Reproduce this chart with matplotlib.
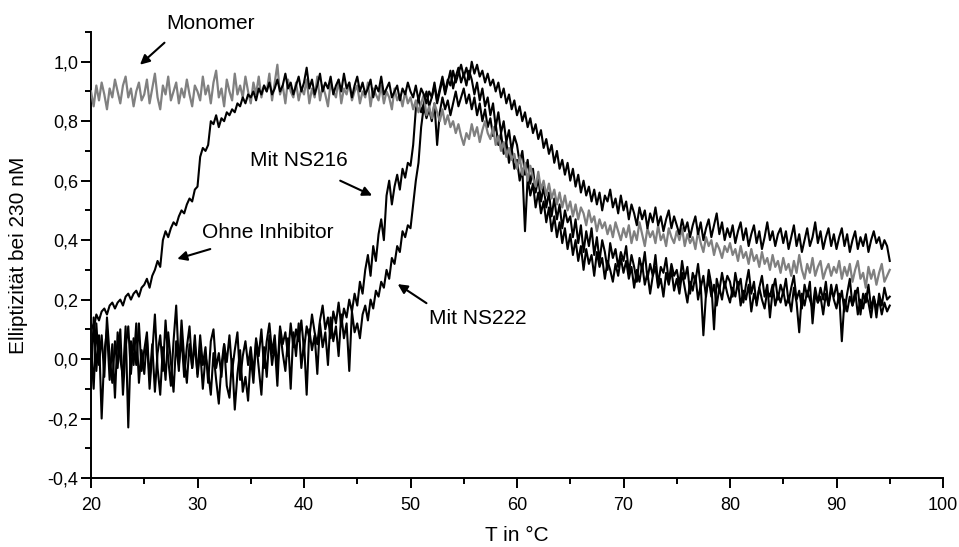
import numpy as np
import matplotlib

matplotlib.use('Agg')
import matplotlib.pyplot as plt


# font settings
plt.rcParams['font.family'] = ['Liberation Sans', 'DejaVu Sans']
font_label = {'family': 'Liberation Sans', 'size': 15}
font_note = {'family': 'Liberation Sans', 'size': 15}


# temperature grid: 0.25 degC steps starting at 20 degC
t_start = 20.0
t_step = 0.25

# ellipticity, two lines = 5 degC
monomer = [
    0.90, 0.85, 0.92, 0.87, 0.93, 0.89, 0.84, 0.91, 0.88, 0.94,
    0.90, 0.86, 0.92, 0.95, 0.88, 0.91, 0.85, 0.90, 0.93, 0.87,
    0.89, 0.94, 0.86, 0.91, 0.96, 0.88, 0.84, 0.92, 0.89, 0.95,
    0.87, 0.90, 0.93, 0.86, 0.91, 0.88, 0.94, 0.89, 0.85, 0.92,
    0.90, 0.87, 0.95, 0.89, 0.92, 0.86, 0.93, 0.97, 0.88, 0.91,
    0.85, 0.94, 0.90, 0.87, 0.96, 0.89, 0.92, 0.88, 0.95, 0.90,
    0.86, 0.93, 0.89, 0.95, 0.88, 0.92, 0.90, 0.96, 0.87, 0.93,
    0.99, 0.89, 0.92, 0.86, 0.94, 0.90, 0.88, 0.93, 0.87, 0.91,
    0.89, 0.94, 0.86, 0.91, 0.88, 0.95, 0.87, 0.92, 0.89, 0.85,
    0.93, 0.90, 0.88, 0.94, 0.86, 0.91, 0.89, 0.93, 0.87, 0.90,
    0.92, 0.86, 0.90, 0.88, 0.93, 0.85, 0.91, 0.89, 0.87, 0.92,
    0.86, 0.90, 0.88, 0.84, 0.91, 0.87, 0.89, 0.85, 0.90, 0.86,
    0.88, 0.84, 0.87, 0.83, 0.86, 0.89, 0.82, 0.85, 0.81, 0.86,
    0.83, 0.80, 0.84, 0.79, 0.82, 0.78, 0.80, 0.76, 0.79, 0.75,
    0.72, 0.76, 0.74, 0.79, 0.75, 0.78, 0.73, 0.77, 0.80, 0.76,
    0.74, 0.78, 0.72, 0.75, 0.70, 0.73, 0.68, 0.71, 0.67, 0.69,
    0.64, 0.68, 0.62, 0.66, 0.60, 0.65, 0.61, 0.58, 0.63, 0.57,
    0.60, 0.55, 0.59, 0.54, 0.57, 0.52, 0.56, 0.51, 0.55, 0.50,
    0.53, 0.48, 0.52, 0.47, 0.51, 0.49, 0.45, 0.50, 0.46, 0.48,
    0.43, 0.47, 0.44, 0.46, 0.42, 0.45, 0.41, 0.46, 0.43, 0.40,
    0.44, 0.41, 0.45, 0.39, 0.43, 0.40, 0.46, 0.42, 0.38, 0.44,
    0.41, 0.43, 0.39, 0.45, 0.40, 0.42, 0.38, 0.44, 0.41, 0.39,
    0.43, 0.40, 0.44, 0.38, 0.42, 0.39, 0.41, 0.37, 0.43, 0.39,
    0.36, 0.41, 0.38, 0.40, 0.35, 0.39, 0.37, 0.34, 0.38, 0.36,
    0.39, 0.35, 0.37, 0.33, 0.38, 0.34, 0.36, 0.32, 0.37, 0.33,
    0.35, 0.31, 0.36, 0.32, 0.34, 0.30, 0.35, 0.31, 0.33, 0.29,
    0.34, 0.30, 0.32, 0.28, 0.33, 0.29, 0.35, 0.30, 0.27, 0.32,
    0.29, 0.34, 0.28, 0.31, 0.33, 0.27, 0.30, 0.32, 0.28, 0.31,
    0.29, 0.33, 0.27, 0.31, 0.28, 0.32, 0.26, 0.30, 0.33, 0.27,
    0.29, 0.24, 0.31, 0.27, 0.30, 0.25, 0.29, 0.32, 0.26, 0.28,
    0.30]

ohne_inhibitor = [
    0.12, 0.10, 0.15, 0.13, 0.16, 0.17, 0.15, 0.18, 0.19, 0.17,
    0.19, 0.20, 0.18, 0.21, 0.22, 0.20, 0.22, 0.23, 0.21, 0.24,
    0.25, 0.27, 0.24, 0.28, 0.30, 0.33, 0.31, 0.40, 0.43, 0.41,
    0.44, 0.46, 0.45, 0.48, 0.50, 0.49, 0.52, 0.54, 0.53, 0.57,
    0.58, 0.68, 0.71, 0.70, 0.72, 0.80, 0.79, 0.82, 0.78, 0.81,
    0.80, 0.83, 0.82, 0.84, 0.83, 0.86, 0.85, 0.88, 0.86, 0.89,
    0.88, 0.90, 0.87, 0.91, 0.89, 0.92, 0.90, 0.93, 0.89, 0.91,
    0.94, 0.90, 0.92, 0.96, 0.91, 0.93, 0.89, 0.92, 0.95, 0.90,
    0.93, 0.98, 0.91, 0.94, 0.89, 0.92, 0.96, 0.90, 0.93, 0.91,
    0.95, 0.89, 0.92, 0.94, 0.90, 0.96, 0.91, 0.93, 0.88, 0.92,
    0.95, 0.90, 0.93, 0.89, 0.91, 0.94, 0.88, 0.92, 0.90, 0.95,
    0.89, 0.91, 0.93, 0.88, 0.90, 0.92, 0.87, 0.91, 0.89, 0.93,
    0.90, 0.88, 0.92, 0.87, 0.91, 0.89, 0.86, 0.90, 0.88, 0.93,
    0.87, 0.91, 0.95, 0.90, 0.94, 0.92, 0.97, 0.93, 0.96, 0.99,
    0.95, 0.98, 0.94, 1.00, 0.96, 0.99, 0.95, 0.97, 0.93, 0.96,
    0.92, 0.94, 0.90, 0.93, 0.88, 0.91, 0.86, 0.89, 0.84, 0.87,
    0.82, 0.85, 0.80, 0.83, 0.78, 0.81, 0.76, 0.79, 0.74, 0.77,
    0.71, 0.74, 0.69, 0.72, 0.66, 0.70, 0.64, 0.67, 0.62, 0.66,
    0.60, 0.64, 0.58, 0.62, 0.56, 0.60, 0.55, 0.58, 0.53, 0.57,
    0.52, 0.56, 0.50, 0.55, 0.53, 0.57, 0.51, 0.54, 0.49, 0.55,
    0.50, 0.53, 0.47, 0.52, 0.49, 0.45, 0.51, 0.47, 0.50, 0.44,
    0.49, 0.46, 0.51, 0.45, 0.48, 0.43, 0.47, 0.50, 0.44, 0.48,
    0.45, 0.42, 0.47, 0.43, 0.46, 0.41, 0.45, 0.48, 0.42, 0.46,
    0.40, 0.44, 0.47, 0.41, 0.45, 0.49, 0.42, 0.46, 0.40, 0.44,
    0.41, 0.45, 0.39, 0.43, 0.46, 0.40, 0.44, 0.38, 0.42, 0.45,
    0.39, 0.43, 0.37, 0.41, 0.46, 0.40, 0.43, 0.38, 0.42, 0.44,
    0.39, 0.43, 0.37, 0.41, 0.45, 0.38, 0.42, 0.36, 0.40, 0.44,
    0.38, 0.41, 0.46, 0.39, 0.43, 0.37, 0.41, 0.44, 0.38, 0.42,
    0.37, 0.41, 0.44, 0.38, 0.42, 0.36, 0.40, 0.43, 0.37, 0.41,
    0.38, 0.42, 0.36, 0.40, 0.43, 0.39, 0.41, 0.37, 0.40, 0.38,
    0.33]

ns216 = [
    0.05, -0.10, 0.12, -0.02, 0.08, -0.06, 0.14, 0.01, -0.08, 0.06,
    -0.03, 0.10, -0.12, 0.04, 0.11, -0.05, 0.07, -0.02, 0.12, -0.04,
    0.03, 0.09, -0.07, 0.05, -0.11, 0.02, 0.08, -0.04, 0.13, 0.00,
    -0.09, 0.06, 0.18, -0.02, 0.07, -0.06, 0.04, 0.11, -0.03, 0.05,
    -0.05, 0.08, -0.02, 0.04, -0.08, 0.06, 0.10, -0.03, 0.02, -0.06,
    0.05, -0.01, 0.08, -0.04, 0.03, 0.09, -0.07, 0.01, 0.06, -0.02,
    0.04, -0.05, 0.07, 0.01, 0.10, -0.03, 0.06, 0.12, 0.02, 0.08,
    -0.04, 0.11, 0.05, 0.09, 0.01, 0.12, 0.04, 0.10, 0.06, 0.13,
    0.03, 0.11, 0.07, 0.15, 0.09, 0.05, 0.13, 0.18, 0.10, 0.14,
    0.07, 0.16, 0.12, 0.19, 0.11, 0.17, 0.14, 0.20, 0.16, 0.22,
    0.18, 0.26, 0.22, 0.30, 0.35, 0.28, 0.38, 0.33, 0.42, 0.47,
    0.40, 0.55, 0.60, 0.52, 0.58, 0.62, 0.57, 0.64, 0.61, 0.66,
    0.65, 0.72, 0.84, 0.88, 0.83, 0.86, 0.90, 0.85, 0.88, 0.92,
    0.86, 0.90, 0.94, 0.89, 0.93, 0.97, 0.91, 0.95, 0.98, 0.93,
    0.96, 0.92, 0.97, 0.94, 0.89, 0.93, 0.87, 0.91, 0.85, 0.88,
    0.82, 0.86, 0.78, 0.83, 0.76, 0.80, 0.73, 0.77, 0.70, 0.75,
    0.72, 0.66, 0.70, 0.62, 0.67, 0.59, 0.64, 0.56, 0.61, 0.53,
    0.58, 0.51, 0.56, 0.48, 0.54, 0.47, 0.52, 0.44, 0.50, 0.46,
    0.48, 0.41, 0.47, 0.39, 0.45, 0.36, 0.43, 0.38, 0.44, 0.35,
    0.41, 0.33, 0.40, 0.36, 0.30, 0.39, 0.34, 0.37, 0.31, 0.36,
    0.33, 0.38, 0.29, 0.35, 0.31, 0.26, 0.34, 0.30, 0.36, 0.27,
    0.32, 0.28, 0.35, 0.25, 0.31, 0.29, 0.34, 0.26, 0.32, 0.28,
    0.30, 0.25, 0.33, 0.27, 0.31, 0.22, 0.29, 0.26, 0.32, 0.24,
    0.28, 0.21, 0.30, 0.25, 0.10, 0.27, 0.23, 0.29, 0.24, 0.28,
    0.26, 0.21, 0.29, 0.24, 0.27, 0.19, 0.25, 0.30, 0.22, 0.26,
    0.18, 0.24, 0.28, 0.21, 0.25, 0.14, 0.23, 0.27, 0.20, 0.25,
    0.22, 0.27, 0.19, 0.24, 0.28, 0.20, 0.23, 0.17, 0.25, 0.21,
    0.26, 0.12, 0.22, 0.19, 0.24, 0.20, 0.26, 0.18, 0.23, 0.21,
    0.25, 0.19, 0.23, 0.16, 0.22, 0.27, 0.18, 0.21, 0.24, 0.15,
    0.22, 0.19, 0.25, 0.17, 0.21, 0.14, 0.22, 0.18, 0.24, 0.20,
    0.21]

ns222 = [
    -0.10, 0.14, -0.04, 0.08, -0.20, 0.02, 0.10, -0.07, 0.05, -0.13,
    0.09, 0.00, -0.06, 0.11, -0.23, 0.06, -0.02, 0.12, -0.08, 0.03,
    -0.05, 0.07, -0.10, 0.02, 0.15, -0.03, -0.12, 0.04, -0.07, 0.09,
    -0.01, -0.11, 0.06, -0.04, 0.13, 0.00, -0.08, 0.05, -0.03, 0.08,
    -0.06, 0.03, -0.10, 0.01, -0.04, -0.12, 0.02, -0.07, -0.15, -0.02,
    0.05, -0.09, -0.13, 0.00, -0.17, -0.05, 0.03, -0.11, -0.06, -0.14,
    0.01, -0.08, 0.06, -0.03, -0.12, 0.04, -0.06, 0.08, -0.02, 0.05,
    -0.09, 0.10, 0.02, -0.04, 0.07, -0.10, 0.09, 0.01, 0.12, -0.03,
    0.06, -0.12, 0.10, 0.03, 0.08, -0.05, 0.12, 0.04, 0.09, -0.02,
    0.14, 0.06, 0.11, 0.01, 0.15, 0.07, 0.12, -0.04, 0.16, 0.09,
    0.12, 0.07, 0.15, 0.18, 0.13, 0.20, 0.17, 0.23, 0.21, 0.26,
    0.24, 0.30, 0.27, 0.34, 0.32, 0.38, 0.36, 0.43, 0.41, 0.45,
    0.44, 0.52, 0.60, 0.66, 0.78, 0.85, 0.81, 0.84, 0.80, 0.86,
    0.72, 0.83, 0.88, 0.84, 0.87, 0.82, 0.86, 0.90, 0.85, 0.88,
    0.91, 0.86, 0.89, 0.84, 0.88, 0.82, 0.86, 0.80, 0.84, 0.78,
    0.81, 0.75, 0.79, 0.72, 0.76, 0.69, 0.73, 0.66, 0.71, 0.64,
    0.67, 0.60, 0.64, 0.43, 0.61, 0.55, 0.59, 0.51, 0.56, 0.49,
    0.53, 0.46, 0.51, 0.43, 0.48, 0.41, 0.46, 0.39, 0.44, 0.37,
    0.42, 0.35, 0.40, 0.33, 0.38, 0.30, 0.37, 0.32, 0.35, 0.28,
    0.36, 0.31, 0.34, 0.27, 0.33, 0.30, 0.26, 0.32, 0.28, 0.34,
    0.29, 0.33, 0.27, 0.31, 0.24, 0.30, 0.26, 0.32, 0.25, 0.29,
    0.22, 0.28, 0.31, 0.24, 0.27, 0.21, 0.29, 0.25, 0.30, 0.23,
    0.27, 0.22, 0.29, 0.24, 0.19, 0.26, 0.23, 0.28, 0.20, 0.25,
    0.08, 0.22, 0.27, 0.21, 0.25, 0.18, 0.24, 0.20, 0.26, 0.22,
    0.19, 0.24, 0.21, 0.26, 0.18, 0.23, 0.20, 0.25, 0.16, 0.22,
    0.19, 0.24, 0.20, 0.17, 0.23, 0.21, 0.25, 0.18, 0.22, 0.19,
    0.23, 0.18, 0.21, 0.16, 0.24, 0.19, 0.09, 0.22, 0.18, 0.23,
    0.20, 0.17, 0.24, 0.19, 0.21, 0.15, 0.22, 0.18, 0.25, 0.20,
    0.17, 0.22, 0.06, 0.20, 0.16, 0.21, 0.18, 0.23, 0.15, 0.20,
    0.17, 0.22, 0.19, 0.14, 0.21, 0.17, 0.20, 0.15, 0.19, 0.16,
    0.18]

x_ticks = [20, 30, 40, 50, 60, 70, 80, 90, 100]
x_ticklabels = ['20', '30', '40', '50', '60', '70', '80', '90', '100']
y_ticks = [-0.4, -0.2, 0.0, 0.2, 0.4, 0.6, 0.8, 1.0]
y_ticklabels = ['-0,4', '-0,2', '0,0', '0,2', '0,4', '0,6', '0,8', '1,0']


def temps(series):
    return t_start + t_step * np.arange(len(series))


fig = plt.figure(figsize=(9.59, 5.47), dpi=100)
ax = fig.add_axes([91 / 959, 69 / 547, 852 / 959, 446 / 547])

ax.plot(temps(ns222), ns222, color='black', lw=1.5, zorder=2)
ax.plot(temps(ns216), ns216, color='black', lw=1.5, zorder=2)
ax.plot(temps(monomer), monomer, color='#808080', lw=1.6, zorder=3)
ax.plot(temps(ohne_inhibitor), ohne_inhibitor, color='black', lw=1.5, zorder=4)

# labels with arrows
arrow = dict(arrowstyle='-|>', color='black', lw=1.5, mutation_scale=14,
             shrinkA=0, shrinkB=0)
ax.annotate('', xy=(24.6, 0.99), xytext=(26.9, 1.064), arrowprops=arrow,
            annotation_clip=False)
ax.text(31.2, 1.13, 'Monomer', fontdict=font_note, ha='center', va='center')

ax.annotate('', xy=(46.4, 0.55), xytext=(43.4, 0.60), arrowprops=arrow)
ax.text(39.5, 0.667, 'Mit NS216', fontdict=font_note, ha='center', va='center')

ax.annotate('', xy=(28.1, 0.337), xytext=(31.2, 0.37), arrowprops=arrow)
ax.text(36.6, 0.424, 'Ohne Inhibitor', fontdict=font_note, ha='center', va='center')

ax.annotate('', xy=(48.8, 0.252), xytext=(51.5, 0.188), arrowprops=arrow)
ax.text(56.3, 0.138, 'Mit NS222', fontdict=font_note, ha='center', va='center')

# axes
ax.spines['top'].set_visible(False)
ax.spines['right'].set_visible(False)
ax.spines['left'].set_linewidth(1.4)
ax.spines['bottom'].set_linewidth(1.4)

ax.set_xlim([20, 100])
ax.set_xticks(x_ticks)
ax.set_xticklabels(x_ticklabels, fontsize=13)
ax.set_xticks(np.arange(25, 100, 10), minor=True)

ax.set_ylim([-0.4, 1.1])
ax.set_yticks(y_ticks)
ax.set_yticklabels(y_ticklabels, fontsize=13)
ax.set_yticks(np.arange(-0.3, 1.15, 0.2), minor=True)

ax.tick_params(which='major', direction='out', length=7, width=1.4)
ax.tick_params(which='minor', direction='out', length=4, width=1.4)
ax.tick_params(axis='x', which='major', pad=7)
ax.tick_params(axis='y', which='major', pad=2)

ax.set_xlabel('T in °C', fontdict=font_label)
ax.set_ylabel('Elliptizität bei 230 nM', fontdict=font_label)
ax.xaxis.set_label_coords(0.5, -0.108)
ax.yaxis.set_label_coords(-0.074, 0.5)

fig.savefig('out.png', dpi=100)
